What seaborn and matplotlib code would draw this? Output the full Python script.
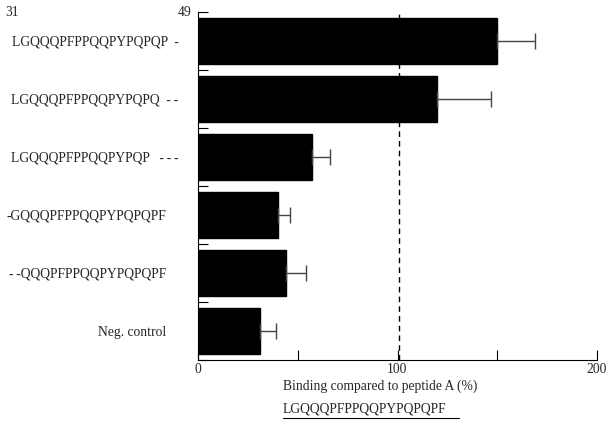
import seaborn as sns
import matplotlib.pyplot as plt
import matplotlib
import pandas as pd

matplotlib.use('agg')

labels = ["LGQQQPFPPQQPYPQPQP  -",
          "LGQQQPFPPQQPYPQPQ  -\u2009-",
          "LGQQQPFPPQQPYPQP   -\u2009-\u2009-",
          "-GQQQPFPPQQPYPQPQPF",
          "-\u2009-QQQPFPPQQPYPQPQPF",
          "Neg. control"]
binding = [150, 120, 57, 40, 44, 31]
errors = [19, 27, 9, 6, 10, 8]
x_ticks = [0, 50, 100, 150, 200]
x_ticklabels = ["0", "", "100", "", "200"]
reference_level = 101

df = pd.DataFrame({"label": labels, "binding": binding, "err": errors})

sns.set_style('white')
plt.rcParams['font.family'] = ['Liberation Serif', 'DejaVu Serif']
fs = 9.8

fig = plt.figure(figsize=(6.09, 4.25), dpi=100)
ax = fig.add_axes([198/609, 1 - 360/425, 399/609, 348/425])

sns.barplot(data=df, x="binding", y="label", orient="h", color="black",
            saturation=1, width=0.81, edgecolor="black", ax=ax)
ax.errorbar(df["binding"], range(len(df)), xerr=[[0]*len(df), df["err"]],
            fmt='none', ecolor='#444444', elinewidth=1, capsize=6, capthick=1)

ax.axvline(reference_level, color='black', linestyle='--', linewidth=1, dashes=(4, 3))

ax.set_xlim(0, 200)
ax.set_ylim(len(df) - 0.5, -0.5)
ax.set_xticks(x_ticks)
ax.set_xticklabels(x_ticklabels, fontsize=fs)
ax.set_yticks([i - 0.5 for i in range(len(df) + 1)], minor=True)
ax.tick_params(axis='y', which='major', length=0, labelsize=fs)
ax.tick_params(axis='y', which='minor', direction='in', length=7, width=0.8, color='black', left=True)
ax.tick_params(axis='x', which='major', direction='in', length=7, width=0.8, color='black', bottom=True, pad=2)
for i, tick in enumerate(ax.yaxis.get_major_ticks()):
    tick.set_pad(14 if i < 3 else 23)
ax.set_xlabel("")
ax.set_ylabel("")
for side in ['top', 'right']:
    ax.spines[side].set_visible(False)
for side in ['left', 'bottom']:
    ax.spines[side].set_color('black')
    ax.spines[side].set_linewidth(0.8)

fig.text(5/609, 1 - 12/425, "31", fontsize=fs, va='center')
fig.text(178/609, 1 - 12/425, "49", fontsize=fs, va='center')
fig.text(283/609, 1 - 386/425, "Binding compared to peptide A (%)", fontsize=fs, va='center')
fig.text(283/609, 1 - 409/425, "LGQQQPFPPQQPYPQPQPF", fontsize=fs, va='center')
fig.add_artist(matplotlib.lines.Line2D([283/609, 459/609], [1 - 418/425, 1 - 418/425],
                                       color='black', linewidth=0.8))

fig.savefig("out.png", dpi=100)
plt.close(fig)
